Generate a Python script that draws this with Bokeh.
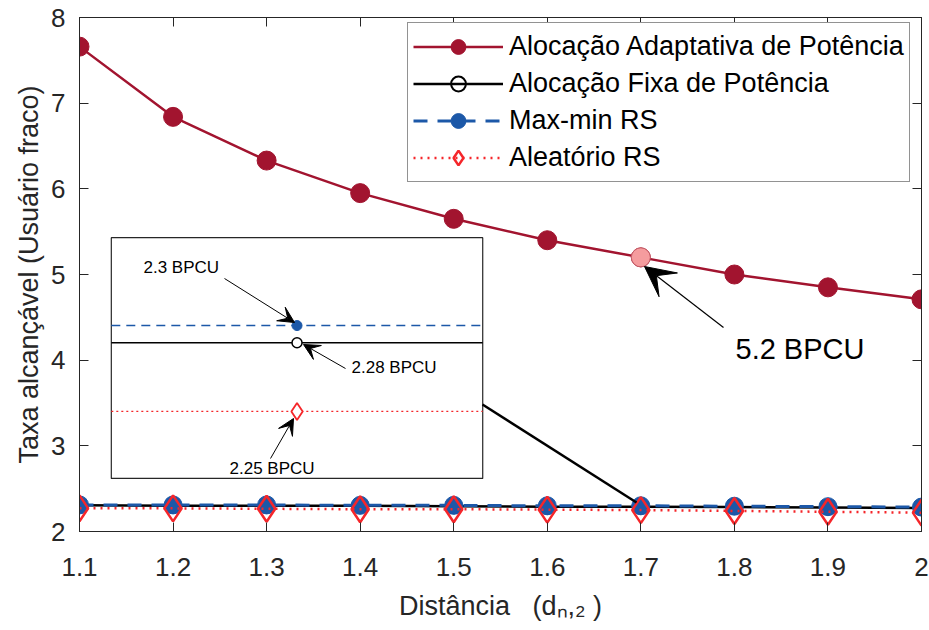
from bokeh.plotting import figure
from bokeh.models import (Range1d, LinearAxis, FixedTicker, Legend, LegendItem,
                          BoxAnnotation, Arrow, VeeHead, Label)
from bokeh.embed import file_html
from bokeh.resources import INLINE

# ---------------- data ----------------
distance = [1.1, 1.2, 1.3, 1.4, 1.5, 1.6, 1.7, 1.8, 1.9, 2.0]
adaptive = [7.66, 6.84, 6.33, 5.95, 5.65, 5.40, 5.20, 5.00, 4.85, 4.71]
fixed = [2.305, 2.30, 2.30, 2.30, 2.295, 2.29, 2.29, 2.285, 2.28, 2.275]
maxmin = [2.31, 2.31, 2.31, 2.305, 2.305, 2.30, 2.30, 2.295, 2.29, 2.285]
random_rs = [2.27, 2.27, 2.265, 2.26, 2.26, 2.255, 2.25, 2.24, 2.23, 2.22]

series_names = ["Alocação Adaptativa de Potência", "Alocação Fixa de Potência",
                "Max-min RS", "Aleatório RS"]
x_ticks = [1.1, 1.2, 1.3, 1.4, 1.5, 1.6, 1.7, 1.8, 1.9, 2.0]
x_tick_labels = ["1.1", "1.2", "1.3", "1.4", "1.5", "1.6", "1.7", "1.8", "1.9", "2"]
y_ticks = [2, 3, 4, 5, 6, 7, 8]
y_label = "Taxa alcançável (Usuário fraco)"
x_label = "Distância\u00a0\u00a0\u00a0(dₙ,₂\u00a0)"
highlight_idx = 6
main_note = "5.2 BPCU"
inset_notes = ["2.3 BPCU", "2.28 BPCU", "2.25 BPCU"]

# ---------------- style ----------------
FONT = "Liberation Sans"
AX = "#262626"
C_ADAPT = "#A2142F"
C_BLUE = "#1C58A8"
C_RED = "#F5262A"
C_PINK = "#F59C9E"

X_FULL = (1.1, 2.0)
Y_FULL = (2.0, 8.0)
INSET_BOX = dict(left=1.134, right=1.531, bottom=2.62, top=5.43)
INSET_X = (1.699, 1.701)
INSET_Y = (2.211, 2.3512)

p = figure(frame_width=842, frame_height=514,
           x_range=Range1d(*X_FULL), y_range=Range1d(*Y_FULL),
           output_backend="svg", toolbar_location=None,
           min_border_left=79, min_border_right=8, min_border_top=17, min_border_bottom=99,
           background_fill_color="white", border_fill_color="white",
           outline_line_color=AX, outline_line_width=1)
p.grid.visible = False

xa = p.xaxis[0]
ya = p.yaxis[0]
xa.ticker = FixedTicker(ticks=x_ticks)
xa.major_label_overrides = {t: l for t, l in zip(x_ticks, x_tick_labels)}
ya.ticker = FixedTicker(ticks=y_ticks)
for ax, lab in ((xa, x_label), (ya, y_label)):
    ax.major_tick_in = 9
    ax.major_tick_out = 0
    ax.minor_tick_line_color = None
    ax.axis_line_color = AX
    ax.major_tick_line_color = AX
    ax.major_label_text_font = FONT
    ax.major_label_text_font_size = "26px"
    ax.major_label_text_color = AX
    ax.axis_label = lab
    ax.axis_label_text_font = FONT
    ax.axis_label_text_font_size = "27px"
    ax.axis_label_text_font_style = "normal"
    ax.axis_label_text_color = AX
xa.major_label_standoff = 26
ya.major_label_standoff = 14
xa.axis_label_standoff = 12
ya.axis_label_standoff = 4

for loc, ticks in (("above", x_ticks), ("right", y_ticks)):
    ax = LinearAxis(ticker=FixedTicker(ticks=ticks), major_label_text_font_size="1px",
                    major_label_text_color=None,
                    major_label_standoff=0, major_tick_in=9, major_tick_out=0,
                    minor_tick_line_color=None, axis_line_color=AX, major_tick_line_color=AX)
    p.add_layout(ax, loc)

# ---------------- main series ----------------
l1 = p.line(distance, adaptive, line_color=C_ADAPT, line_width=2.5)
s1 = p.scatter(distance, adaptive, marker="circle", size=19, fill_color=C_ADAPT, line_color=C_ADAPT)
l2 = p.line(distance, fixed, line_color="black", line_width=2.5)
s2 = p.scatter(distance, fixed, marker="circle", size=14, fill_color=None, line_color="black", line_width=2)
l3 = p.line(distance, maxmin, line_color=C_BLUE, line_width=3, line_dash="14 10")
s3 = p.scatter(distance, maxmin, marker="circle", size=18, fill_color=C_BLUE, line_color=C_BLUE)
l4 = p.line(distance, random_rs, line_color=C_RED, line_width=2.5, line_dash="2 5")
s4 = p.scatter(distance, random_rs, marker="diamond", size=26, fill_color=None, line_color=C_RED, line_width=2.5)

p.scatter([distance[highlight_idx]], [adaptive[highlight_idx]], marker="circle", size=19,
          fill_color=C_PINK, line_color="#C8606A", line_width=1)

legend = Legend(items=[LegendItem(label=series_names[0], renderers=[l1, s1]),
                       LegendItem(label=series_names[1], renderers=[l2, s2]),
                       LegendItem(label=series_names[2], renderers=[l3, s3]),
                       LegendItem(label=series_names[3], renderers=[l4, s4])],
                location=(328, 349), glyph_width=90, glyph_height=37, label_height=30,
                label_standoff=6, padding=5, spacing=0, margin=0,
                label_text_font=FONT, label_text_font_size="27px", label_text_color="black",
                border_line_color=AX, border_line_width=1, background_fill_alpha=1)
p.add_layout(legend)

# ---------------- inset ----------------
def extend(lo, hi, box_lo, box_hi, full_lo, full_hi):
    s = (hi - lo) / (box_hi - box_lo)
    return Range1d(lo - (box_lo - full_lo) * s, hi + (full_hi - box_hi) * s)

p.extra_x_ranges = {"ix": extend(INSET_X[0], INSET_X[1], INSET_BOX["left"], INSET_BOX["right"], *X_FULL)}
p.extra_y_ranges = {"iy": extend(INSET_Y[0], INSET_Y[1], INSET_BOX["bottom"], INSET_BOX["top"], *Y_FULL)}

p.add_layout(BoxAnnotation(left=INSET_BOX["left"], right=INSET_BOX["right"],
                           bottom=INSET_BOX["bottom"], top=INSET_BOX["top"],
                           fill_color="white", fill_alpha=1, line_color=AX, line_alpha=1,
                           line_width=1.2, level="underlay"))

i = highlight_idx
ikw = dict(x_range_name="ix", y_range_name="iy")
p.segment(x0=[INSET_X[0]], x1=[INSET_X[1]], y0=[maxmin[i]], y1=[maxmin[i]],
          line_color=C_BLUE, line_width=1.6, line_dash="9 6", **ikw)
p.segment(x0=[INSET_X[0]], x1=[INSET_X[1]], y0=[fixed[i]], y1=[fixed[i]],
          line_color="black", line_width=1.6, **ikw)
p.segment(x0=[INSET_X[0]], x1=[INSET_X[1]], y0=[random_rs[i]], y1=[random_rs[i]],
          line_color=C_RED, line_width=1.4, line_dash="2 3", **ikw)
p.scatter([distance[i]], [maxmin[i]], marker="circle", size=10, fill_color=C_BLUE, line_color=C_BLUE, **ikw)
p.scatter([distance[i]], [fixed[i]], marker="circle", size=10, fill_color="white", line_color="black",
          line_width=1.5, **ikw)
p.scatter([distance[i]], [random_rs[i]], marker="diamond", size=17, fill_color="white", line_color=C_RED,
          line_width=1.8, **ikw)

# ---------------- annotations (frame screen units) ----------------
def arrow(x0, y0, x1, y1, head=16, lw=1.0):
    p.add_layout(Arrow(x_start=x0, y_start=y0, x_end=x1, y_end=y1,
                       start_units="screen", end_units="screen",
                       line_color="black", line_width=lw,
                       end=VeeHead(size=head, fill_color="black", line_color="black", line_width=1)))

def label(x, y, text, size, align="left"):
    p.add_layout(Label(x=x, y=y, x_units="screen", y_units="screen", text=text,
                       text_font=FONT, text_font_size=size, text_color="black",
                       text_align=align, text_baseline="middle"))

label(64, 264, inset_notes[0], "17px")
arrow(145, 253, 215, 209)
label(272, 164, inset_notes[1], "17px")
arrow(266, 163, 224, 187)
label(150, 63, inset_notes[2], "17px")
arrow(191, 73, 214, 113)

label(656, 183, main_note, "29px")
arrow(644, 204, 565, 265, head=30, lw=1.2)

p.add_layout(Arrow(x_start=403, y_start=127, x_end=557, y_end=29,
                   start_units="screen", end_units="screen",
                   line_color="black", line_width=2.5, end=None))

open("out.html", "w").write(file_html(p, INLINE))
